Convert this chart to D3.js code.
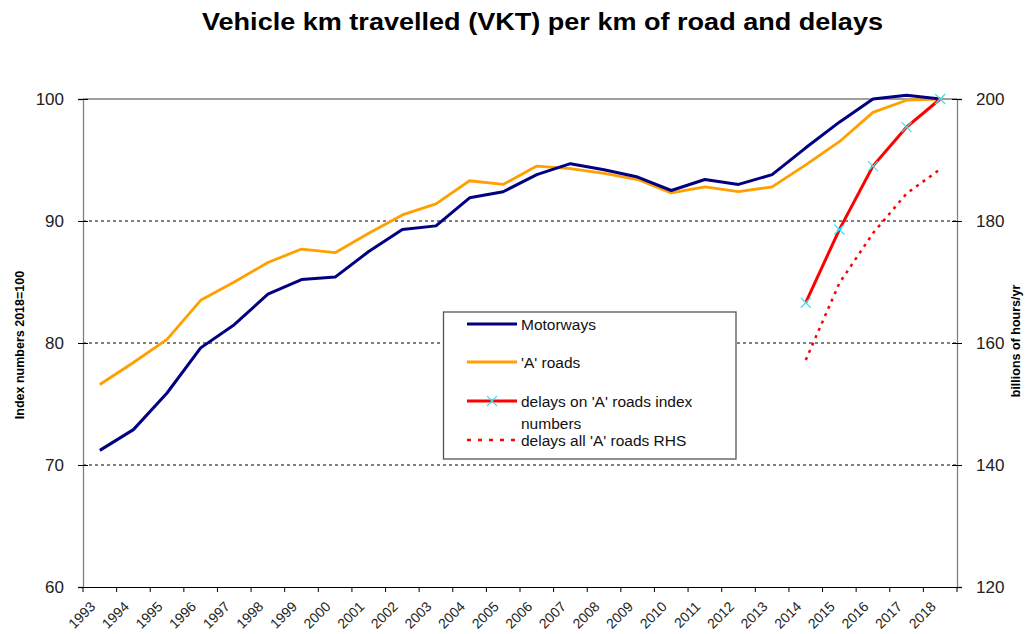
<!DOCTYPE html>
<html><head><meta charset="utf-8">
<script src="https://cdn.jsdelivr.net/npm/d3@7"></script>
<style>body{margin:0;background:#fff;} svg{display:block;font-family:"Liberation Sans",Arial,sans-serif;}</style>
</head><body>
<svg id="c" width="1027" height="634"></svg>
<script>
const years = ["1993","1994","1995","1996","1997","1998","1999","2000","2001","2002","2003","2004","2005","2006","2007","2008","2009","2010","2011","2012","2013","2014","2015","2016","2017","2018"];
const motorways = [71.2,72.9,75.9,79.6,81.5,84.0,85.2,85.4,87.5,89.3,89.6,91.9,92.4,93.8,94.7,94.2,93.6,92.5,93.4,93.0,93.8,96.0,98.1,100.0,100.3,100.0];
const aRoads = [76.6,78.4,80.3,83.5,85.0,86.6,87.7,87.4,89.0,90.5,91.4,93.3,93.0,94.5,94.3,93.9,93.4,92.3,92.8,92.4,92.8,94.6,96.5,98.9,99.9,100.0];
const delayYears = ["2014","2015","2016","2017","2018"];
const delaysIndex = [83.3,89.3,94.5,97.7,100.0];
const delaysRHS = [157.2,169.8,178.0,184.5,188.5];
const leftTicks = [60,70,80,90,100];
const rightTicks = [120,140,160,180,200];
const gridTicks = [70,80,90];

const svg = d3.select("#c");
const L = 83, R = 957, T = 99, B = 587;
const x = d3.scaleBand().domain(years).range([L, R]).padding(0);
const cx = d => x(d) + x.bandwidth()/2;
const y = d3.scaleLinear().domain([60,100]).range([B, T]);
const y2 = d3.scaleLinear().domain([120,200]).range([B, T]);

// title
svg.append("text").attr("x", 202).attr("y", 30).attr("text-anchor","start")
  .attr("font-size", 24.5).attr("font-weight","bold")
  .attr("textLength", 681).attr("lengthAdjust", "spacingAndGlyphs")
  .text("Vehicle km travelled (VKT) per km of road and delays");

// top border
svg.append("line").attr("x1", L).attr("x2", R).attr("y1", T).attr("y2", T).attr("stroke", "#808080").attr("stroke-width", 1.3);

// grid
svg.append("g").selectAll("line").data(gridTicks).join("line")
  .attr("x1", L).attr("x2", R).attr("y1", d => y(d)).attr("y2", d => y(d))
  .attr("stroke", "#000").attr("stroke-width", 1).attr("stroke-dasharray", "3,3");

// left axis
const gl = svg.append("g").attr("transform", `translate(${L},0)`)
  .call(d3.axisLeft(y).tickValues(leftTicks).tickSize(5).tickPadding(14));
gl.select(".domain").attr("stroke", "#808080").attr("stroke-width", 1.3);
gl.selectAll(".tick line").attr("stroke", "#000").attr("x2", 5).attr("x1", -5);
gl.selectAll("text").attr("font-size", 17).attr("font-family", "Liberation Sans, Arial").attr("fill", "#222");

// right axis
const gr = svg.append("g").attr("transform", `translate(${R},0)`)
  .call(d3.axisRight(y2).tickValues(rightTicks).tickSize(5).tickPadding(14));
gr.select(".domain").attr("stroke", "#808080").attr("stroke-width", 1.3);
gr.selectAll(".tick line").attr("stroke", "#000").attr("x1", -5).attr("x2", 5);
gr.selectAll("text").attr("font-size", 17).attr("font-family", "Liberation Sans, Arial").attr("fill", "#222");

// bottom axis
const gb = svg.append("g").attr("transform", `translate(0,${B})`)
  .call(d3.axisBottom(x).tickSize(0).tickFormat(""));
gb.select(".domain").attr("stroke", "#000").attr("stroke-width", 1.2);
gb.selectAll(".btick").data(years.concat(["end"])).join("line").attr("class","btick")
  .attr("x1", (d,i) => i < years.length ? x(d) : R).attr("x2", (d,i) => i < years.length ? x(d) : R)
  .attr("y1", 0).attr("y2", 5).attr("stroke", "#000");
gb.selectAll(".blab").data(years).join("text").attr("class","blab")
  .attr("transform", d => `translate(${cx(d) - 7},${17}) rotate(-45)`)
  .attr("text-anchor", "end").attr("dy", "0.35em")
  .attr("font-size", 14).attr("fill", "#222").text(d => d);

// axis titles
svg.append("text").attr("transform", "translate(24,345) rotate(-90)").attr("text-anchor","middle")
  .attr("font-size", 12.5).attr("font-weight","bold").text("Index numbers 2018=100");
svg.append("text").attr("transform", "translate(1020,341) rotate(-90)").attr("text-anchor","middle")
  .attr("font-size", 12.5).attr("font-weight","bold").text("billions of hours/yr");

// lines
const line = d3.line().x((d,i) => cx(years[i])).y(d => y(d));
svg.append("path").attr("d", line(aRoads)).attr("fill","none").attr("stroke","#FFA000").attr("stroke-width",2.8).attr("stroke-linejoin","round");
svg.append("path").attr("d", line(motorways)).attr("fill","none").attr("stroke","#000080").attr("stroke-width",3).attr("stroke-linejoin","round");

const dline = d3.line().x((d,i) => cx(delayYears[i])).y(d => y(d));
const dline2 = d3.line().x((d,i) => cx(delayYears[i])).y(d => y2(d));
svg.append("path").attr("d", dline2(delaysRHS)).attr("fill","none").attr("stroke","#FF0000").attr("stroke-width",2.5).attr("stroke-dasharray","3,5");
svg.append("path").attr("d", dline(delaysIndex)).attr("fill","none").attr("stroke","#FF0000").attr("stroke-width",3);
const m = 5;
svg.append("g").selectAll("path").data(delaysIndex).join("path")
  .attr("d", (d,i) => { const px = cx(delayYears[i]), py = y(d); return `M${px-m},${py-m}L${px+m},${py+m}M${px-m},${py+m}L${px+m},${py-m}`; })
  .attr("stroke","#40E0F0").attr("stroke-width",1.2);

// legend
const lg = svg.append("g");
lg.append("rect").attr("x", 443.5).attr("y", 312).attr("width", 292.5).attr("height", 147)
  .attr("fill","#fff").attr("stroke","#555").attr("stroke-width",1.3);
const items = [
  {t:["Motorways"], c:"#000080", y:324, dash:null},
  {t:["'A' roads"], c:"#FFA000", y:362, dash:null},
  {t:["delays on 'A' roads index","numbers"], c:"#FF0000", y:401, dash:null, mk:true},
  {t:["delays all 'A' roads RHS"], c:"#FF0000", y:440, dash:"4,7"}
];
items.forEach(it => {
  const l = lg.append("line").attr("x1", 467).attr("x2", 517).attr("y1", it.y).attr("y2", it.y)
    .attr("stroke", it.c).attr("stroke-width", 3);
  if (it.dash) l.attr("stroke-dasharray", it.dash).attr("stroke-width", 2.5);
  if (it.mk) lg.append("path").attr("d", `M${492-m},${it.y-m}L${492+m},${it.y+m}M${492-m},${it.y+m}L${492+m},${it.y-m}`)
    .attr("stroke","#40E0F0").attr("stroke-width",1.2);
  it.t.forEach((s,k) => lg.append("text").attr("x", 521).attr("y", it.y + 5.5 + k*22)
    .attr("font-size", 15.5).attr("fill","#111").text(s));
});
</script>
</body></html>
